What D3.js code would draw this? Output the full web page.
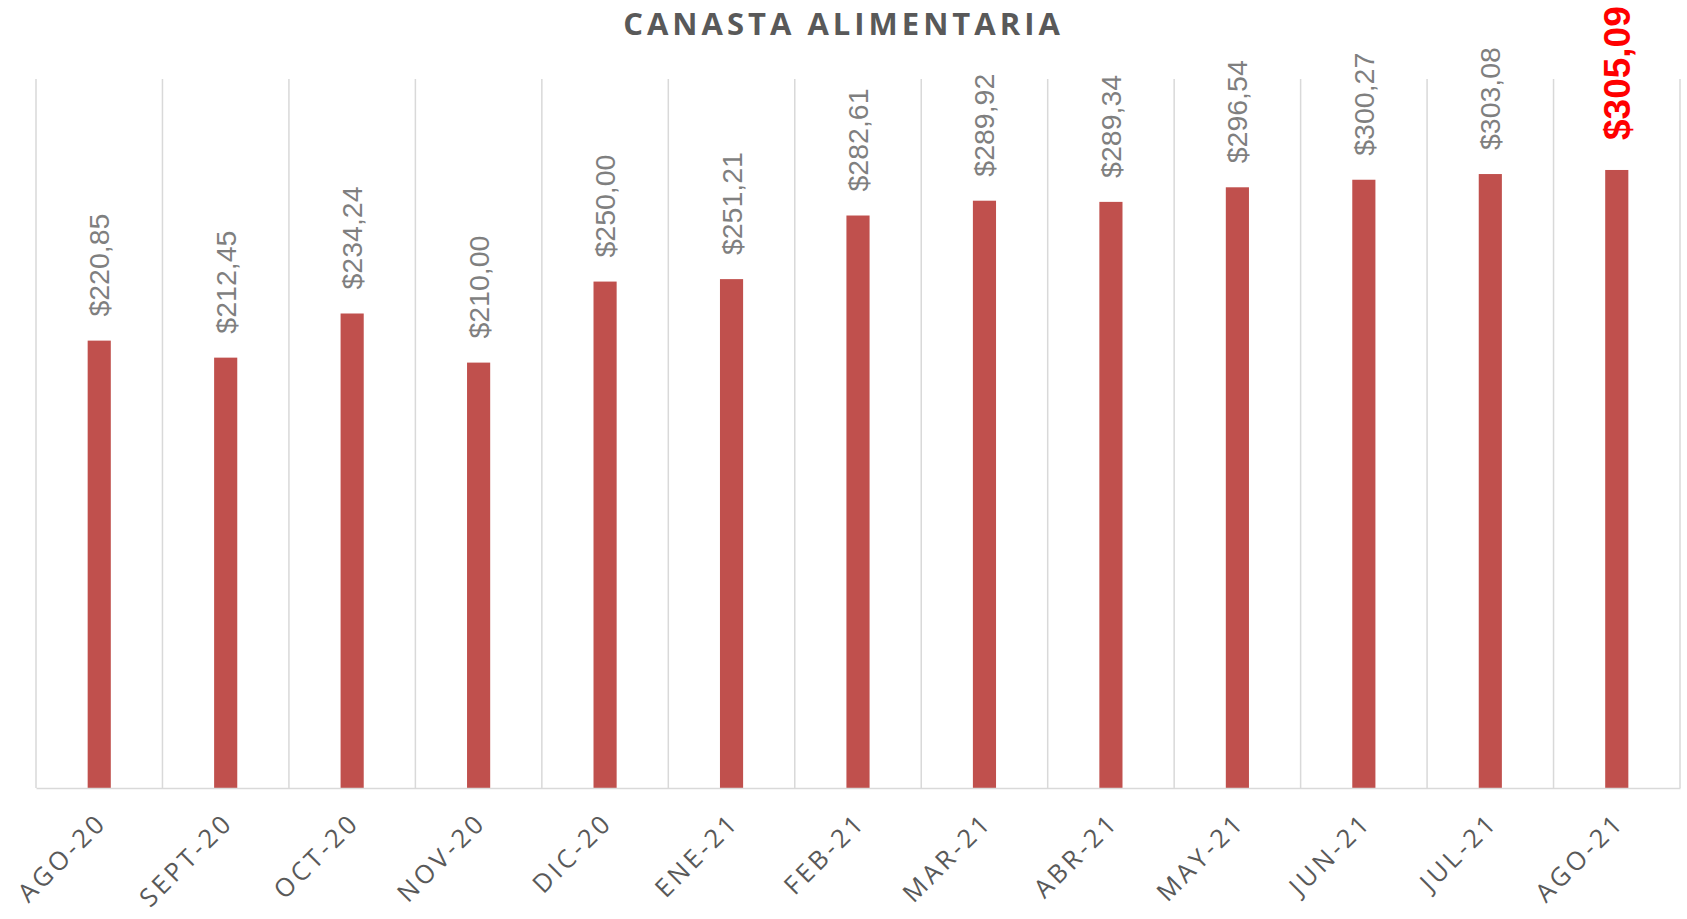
<!DOCTYPE html>
<html>
<head>
<meta charset="utf-8">
<script src="https://cdn.jsdelivr.net/npm/d3@7"></script>
<style>
  html, body { margin: 0; padding: 0; background: #fff; }
  svg { display: block; }
</style>
</head>
<body>
<div id="chart"></div>
<script>
const width = 1687;
const height = 919;
const margin = { top: 79, right: 7, bottom: 131, left: 36 };

// data
const months = ['AGO-20', 'SEPT-20', 'OCT-20', 'NOV-20', 'DIC-20', 'ENE-21', 'FEB-21',
  'MAR-21', 'ABR-21', 'MAY-21', 'JUN-21', 'JUL-21', 'AGO-21'];
const prices = [220.85, 212.45, 234.24, 210.00, 250.00, 251.21, 282.61,
  289.92, 289.34, 296.54, 300.27, 303.08, 305.09];
const yDomain = [0, 350];
const highlightMonth = 'AGO-21';

const rows = months.map((m, i) => ({ month: m, value: prices[i] }));

const fmt = (v) => '$' + v.toFixed(2).replace('.', ',');

const svg = d3.select('#chart')
  .append('svg')
  .attr('width', width)
  .attr('height', height);

const xScale = d3.scaleBand()
  .domain(months)
  .range([margin.left, width - margin.right])
  .padding(0);

const yScale = d3.scaleLinear()
  .domain(yDomain)
  .range([height - margin.bottom, margin.top]);

const barW = xScale.bandwidth() * 0.183;

// vertical gridlines between categories
const edges = months.map((m) => xScale(m)).concat([width - margin.right]);
svg.append('g')
  .attr('class', 'gridlines')
  .selectAll('line')
  .data(edges)
  .join('line')
  .attr('x1', (d) => d)
  .attr('x2', (d) => d)
  .attr('y1', yScale(yDomain[1]))
  .attr('y2', yScale(0))
  .attr('stroke', '#d9d9d9')
  .attr('stroke-width', 1.5);

// bars
svg.append('g')
  .attr('class', 'bars')
  .selectAll('rect')
  .data(rows)
  .join('rect')
  .attr('x', (d) => xScale(d.month) + xScale.bandwidth() / 2 - barW / 2)
  .attr('y', (d) => yScale(d.value))
  .attr('width', barW)
  .attr('height', (d) => yScale(0) - yScale(d.value))
  .attr('fill', '#c0504d');

// x axis baseline
const xAxis = d3.axisBottom(xScale).tickSize(0).tickFormat('');
const axisG = svg.append('g')
  .attr('transform', `translate(0, ${yScale(0)})`)
  .call(xAxis);
axisG.select('.domain').attr('stroke', '#d9d9d9').attr('stroke-width', 1.5);

// category labels, rotated
svg.append('g')
  .attr('class', 'x-labels')
  .selectAll('text')
  .data(months)
  .join('text')
  .attr('transform', (d) => `translate(${xScale(d) + xScale.bandwidth() / 2 + 9}, ${yScale(0) + 36}) rotate(-45)`)
  .attr('text-anchor', 'end')
  .attr('font-family', 'Open Sans, Liberation Sans, sans-serif')
  .attr('font-size', 25.5)
  .attr('letter-spacing', 3.5)
  .attr('fill', '#595959')
  .text((d) => d);

// value labels
svg.append('g')
  .attr('class', 'value-labels')
  .selectAll('text')
  .data(rows)
  .join('text')
  .attr('transform', (d) => {
    const gap = d.month === highlightMonth ? 30 : 24;
    return `translate(${xScale(d.month) + xScale.bandwidth() / 2}, ${yScale(d.value) - gap}) rotate(-90)`;
  })
  .attr('dy', '0.35em')
  .attr('text-anchor', 'start')
  .attr('font-family', 'Liberation Sans, Arial, sans-serif')
  .attr('font-size', (d) => d.month === highlightMonth ? 37 : 28.5)
  .attr('font-weight', (d) => d.month === highlightMonth ? 'bold' : 'normal')
  .attr('fill', (d) => d.month === highlightMonth ? '#ff0000' : '#7f7f7f')
  .text((d) => fmt(d.value));

// title
svg.append('text')
  .attr('x', width / 2)
  .attr('y', 35)
  .attr('text-anchor', 'middle')
  .attr('font-family', 'Open Sans, Liberation Sans, sans-serif')
  .attr('font-size', 31)
  .attr('font-weight', 'bold')
  .attr('letter-spacing', 4)
  .attr('fill', '#595959')
  .text('CANASTA ALIMENTARIA');
</script>
</body>
</html>
